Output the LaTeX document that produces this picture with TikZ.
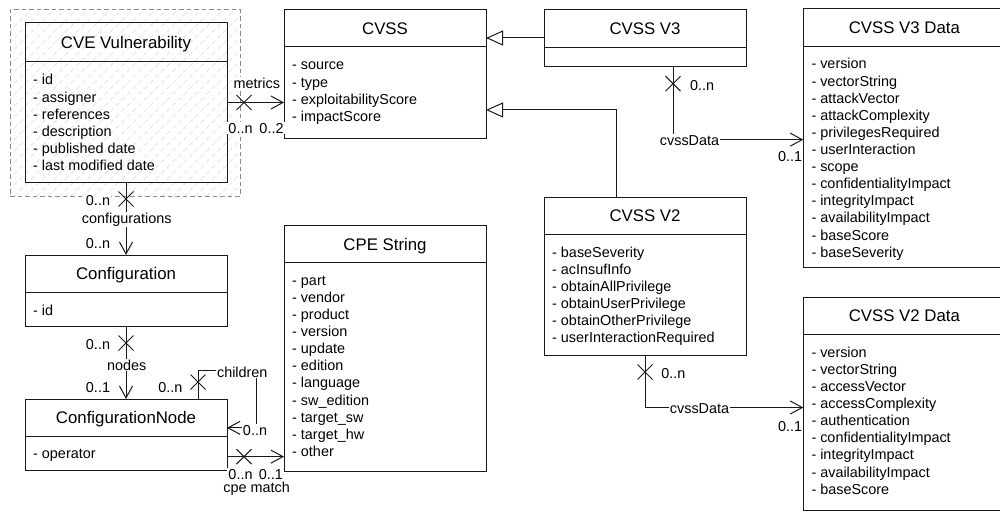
\documentclass[tikz,border=0pt]{standalone}
\usepackage{fontspec}
\setmainfont{Liberation Sans}
\usetikzlibrary{arrows.meta,decorations.markings,patterns.meta}

\tikzset{
  boxline/.style={draw=black!90, line width=1pt},
  classframe/.style={boxline, inner sep=0pt, outer sep=0pt},
  titletext/.style={font=\fontsize{16.8}{20}\selectfont, anchor=base, inner sep=0pt},
  attrtext/.style={font=\fontsize{14.4}{17}\selectfont, anchor=base west, inner sep=0pt},
  lbl/.style={font=\fontsize{14.4}{17}\selectfont, anchor=base, fill=white, inner sep=1pt},
  container/.style={draw=black!45, line width=1pt, dash pattern=on 4.5pt off 3pt,
    pattern={Lines[angle=45,distance=8pt,line width=0.7pt]}, pattern color=black!12,
    inner sep=0pt, outer sep=0pt},
  crossmark/.style={postaction={decorate}, decoration={markings,
    mark=at position 17pt with {\draw[-, line width=1pt, black!90]
      (-7.5pt,-7.5pt) -- (7.5pt,7.5pt) (-7.5pt,7.5pt) -- (7.5pt,-7.5pt);}}},
  assoc/.style={boxline, -{Straight Barb[length=12pt,width=13pt]}, crossmark},
  generalize/.style={boxline, -{Triangle[open, fill=white, length=17pt, width=15pt]}},
}

% class box: name, left, top, right, bottom, divider, title
\newcommand{\umlclass}[7]{%
  \node[classframe, minimum width={(#4-#2)*1pt}, minimum height={(#5-#3)*1pt}]
    (#1) at ({(#2+#4)/2},{(#3+#5)/2}) {};
  \draw[boxline] (#2,#6) -- (#4,#6);
  \node[titletext] (#1-title) at ({(#2+#4)/2},{(#3+#6)/2+6}) {#7};
}
% attribute list: name, left, divider, items
\newcommand{\umlattrs}[4]{%
  \foreach \attr [count=\i] in {#4} {
    \node[attrtext] (#1-\i) at (#2+8,{#3+23+(\i-1)*17.1}) {\attr};
  }
}

\begin{document}
\begin{tikzpicture}[x=1pt, y=-1pt]
\useasboundingbox (0,0) rectangle (1000,516);
\clip (0,0) rectangle (1000,516);

% hatched group around the vulnerability class
\node[container, minimum width=230pt, minimum height=186pt] (cvegroup) at (125,103) {};

% classes
\umlclass{cve}{25}{23}{227}{182}{62}{CVE Vulnerability}
\umlattrs{cve}{25}{62}{- id, - assigner, - references, - description, - published date, - last modified date}

\umlclass{cvss}{284}{9.3}{486}{138}{47}{CVSS}
\umlattrs{cvss}{284}{47}{- source, - type, - exploitabilityScore, - impactScore}

\umlclass{v3}{544}{9.3}{746}{66.7}{47.3}{CVSS V3}

\umlclass{v3data}{803.3}{9}{1005.3}{267.5}{46.5}{CVSS V3 Data}
\umlattrs{v3data}{803.3}{46}{- version, - vectorString, - attackVector, - attackComplexity, - privilegesRequired, - userInteraction, - scope, - confidentialityImpact, - integrityImpact, - availabilityImpact, - baseScore, - baseSeverity}

\umlclass{v2}{544}{197.3}{746}{355}{234}{CVSS V2}
\umlattrs{v2}{544}{234}{- baseSeverity, - acInsufInfo, - obtainAllPrivilege, - obtainUserPrivilege, - obtainOtherPrivilege, - userInteractionRequired}

\umlclass{v2data}{803.3}{297.3}{1005.3}{510}{334.3}{CVSS V2 Data}
\umlattrs{v2data}{803.3}{334.3}{- version, - vectorString, - accessVector, - accessComplexity, - authentication, - confidentialityImpact, - integrityImpact, - availabilityImpact, - baseScore}

\umlclass{config}{25}{255}{227}{326}{292.3}{Configuration}
\umlattrs{config}{25}{292.3}{- id}

\umlclass{cnode}{25}{399}{227}{470.7}{436.7}{ConfigurationNode}
\umlattrs{cnode}{25}{435}{- operator}

\umlclass{cpe}{284}{225.7}{486}{471}{262.3}{CPE String}
\umlattrs{cpe}{284}{262.3}{- part, - vendor, - product, - version, - update, - edition, - language, - sw\_edition, - target\_sw, - target\_hw, - other}

% generalizations
\draw[generalize] (v3.west) -- (v3.west -| cvss.east);
\coordinate (v2up) at ([xshift=-29pt]v2.north);
\coordinate (cvssin) at ([yshift=-36.3pt]cvss.east);
\draw[generalize] (v2up) |- (cvssin);

% associations
\draw[assoc] (cve.east) -- (cve.east -| cvss.west);
\draw[assoc] (cve.south) -- (config.north);
\draw[assoc] (config.south) -- (cnode.north);

\coordinate (childout) at ([xshift=72pt]cnode.north);
\coordinate (childturn) at (256,370);
\coordinate (childin) at ([yshift=7pt]cnode.east);
\draw[assoc] (childout) |- (childturn) |- (childin);

\coordinate (cpeout) at ([yshift=-21.8pt]cnode.east);
\draw[assoc] (cpeout) -- (cpeout -| cpe.west);

\coordinate (v3out) at ([xshift=28pt]v3.south);
\coordinate (v3in) at ([yshift=-1.4pt]v3data.west);
\draw[assoc] (v3out) |- (v3in);

\coordinate (v2in) at ([yshift=-3.85pt]v2data.west);
\draw[assoc] (v2.south) |- (v2in);

% association labels and multiplicities
\node[lbl] (l-metrics) at (256.8,88.3) {metrics};
\node[lbl] (l-metrics-src) at (240.5,133.3) {0..n};
\node[lbl] (l-metrics-tgt) at (271.5,133.3) {0..2};

\node[lbl] (l-conf-src) at (98,205.7) {0..n};
\node[lbl] (l-conf) at (126.7,223.3) {configurations};
\node[lbl] (l-conf-tgt) at (98,248.3) {0..n};

\node[lbl] (l-nodes-src) at (98,349.3) {0..n};
\node[lbl] (l-nodes) at (126.7,370) {nodes};
\node[lbl] (l-nodes-tgt) at (98,392.7) {0..1};

\node[lbl] (l-child-src) at (170.3,392.7) {0..n};
\node[lbl] (l-child) at (242.3,377.3) {children};
\node[lbl] (l-child-tgt) at (255,435) {0..n};

\node[lbl] (l-cpe-src) at (240.5,479) {0..n};
\node[lbl] (l-cpe-tgt) at (270.8,479) {0..1};
\node[lbl] (l-cpe) at (256.7,492.7) {cpe match};

\node[lbl] (l-v3-src) at (702,90.7) {0..n};
\node[lbl] (l-v3) at (689.5,145) {cvssData};
\node[lbl] (l-v3-tgt) at (790,161) {0..1};

\node[lbl] (l-v2-src) at (673.3,378.3) {0..n};
\node[lbl] (l-v2) at (699.5,413.3) {cvssData};
\node[lbl] (l-v2-tgt) at (790,431.7) {0..1};
\end{tikzpicture}
\end{document}
